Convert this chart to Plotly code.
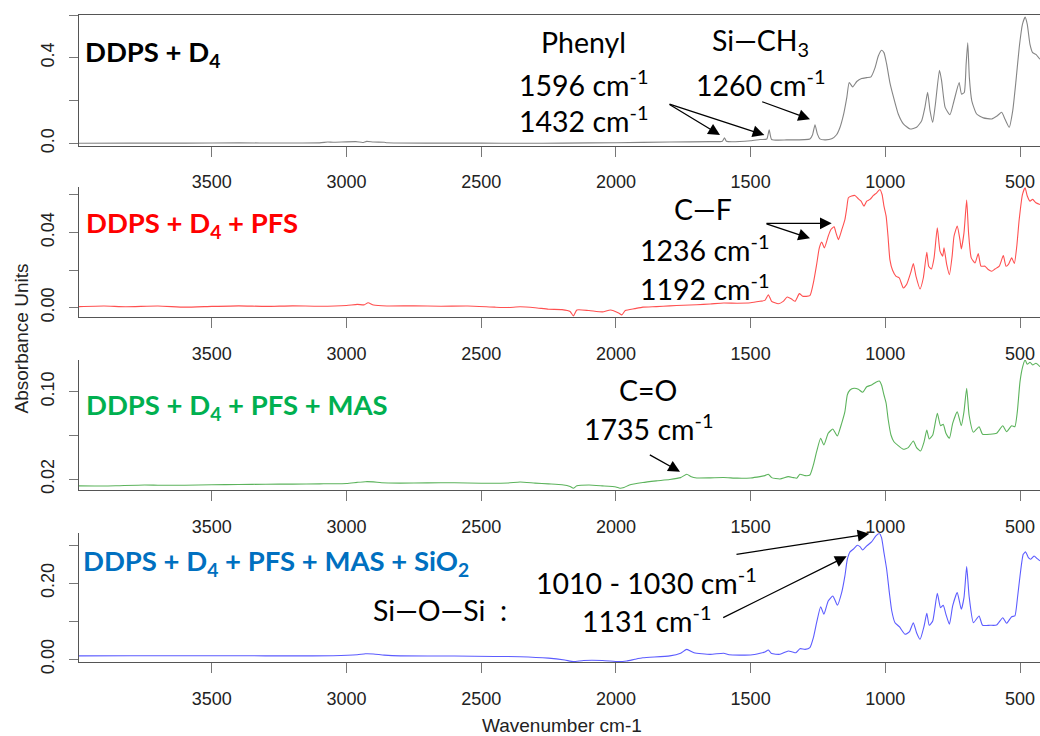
import plotly.graph_objects as go

# ---------------- data ----------------
wn_d4 = [3993, 3800, 3600, 3400, 3100, 3070, 3050, 2965, 2940, 2925, 2900, 2860, 2850, 2700, 2500, 2350,
         2200, 2000, 1800, 1650, 1605, 1597, 1590, 1500, 1465, 1440, 1431, 1422, 1366, 1280, 1270, 1261,
         1252, 1243, 1224, 1199, 1181, 1168, 1156, 1143, 1134, 1121, 1106, 1088, 1069, 1053, 1038, 1026,
         1014, 1005, 995, 983, 970, 952, 933, 908, 884, 865, 853, 843, 834, 824, 814, 799, 791, 778, 760,
         745, 726, 717, 707, 700, 694, 688, 679, 661, 636, 605, 584, 568, 556, 540, 527, 515, 503, 491,
         481, 473, 463, 453, 441, 426]
abs_d4 = [0.0, 0.001, 0.001, 0.002, 0.002, 0.006, 0.005, 0.008, 0.004, 0.009, 0.006, 0.005, 0.003, 0.001,
          0.001, 0.0, 0.001, 0.003, 0.006, 0.008, 0.010, 0.026, 0.010, 0.012, 0.018, 0.020, 0.063, 0.018,
          0.016, 0.020, 0.040, 0.087, 0.043, 0.021, 0.016, 0.021, 0.040, 0.075, 0.129, 0.214, 0.284, 0.264,
          0.289, 0.303, 0.307, 0.311, 0.354, 0.408, 0.435, 0.424, 0.370, 0.284, 0.218, 0.137, 0.091, 0.067,
          0.075, 0.106, 0.168, 0.238, 0.153, 0.098, 0.184, 0.342, 0.292, 0.168, 0.134, 0.199, 0.284, 0.230,
          0.238, 0.370, 0.470, 0.307, 0.199, 0.137, 0.119, 0.114, 0.129, 0.145, 0.114, 0.075, 0.153, 0.292,
          0.447, 0.556, 0.590, 0.556, 0.463, 0.424, 0.416, 0.393]

wn_pfs = [3993, 3900, 3820, 3700, 3600, 3500, 3400, 3300, 3200, 3100, 3000, 2960, 2935, 2920, 2900, 2850,
          2750, 2650, 2550, 2450, 2400, 2356, 2300, 2250, 2200, 2170, 2158, 2145, 2100, 2050, 2020, 1990,
          1978, 1965, 1930, 1900, 1850, 1800, 1750, 1700, 1650, 1600, 1550, 1500, 1465, 1447, 1434, 1422,
          1397, 1379, 1364, 1348, 1335, 1319, 1307, 1280, 1267, 1255, 1245, 1236, 1226, 1212, 1202, 1190,
          1183, 1174, 1162, 1150, 1143, 1137, 1125, 1113, 1100, 1090, 1079, 1069, 1057, 1044, 1032, 1020,
          1012, 1005, 997, 990, 983, 973, 960, 948, 933, 921, 906, 896, 886, 871, 859, 846, 839, 829, 819,
          807, 797, 787, 782, 772, 762, 752, 745, 733, 723, 718, 708, 698, 691, 681, 667, 655, 645, 630,
          618, 605, 593, 577, 562, 552, 543, 531, 521, 512, 503, 491, 481, 473, 463, 453, 441, 426]
abs_pfs = [0.0006, 0.0009, 0.0005, 0.0009, 0.0003, 0.0007, 0.0010, 0.0007, 0.0010, 0.0008, 0.0012, 0.0018,
           0.0015, 0.0026, 0.0014, 0.0009, 0.0010, 0.0008, 0.0009, 0.0003, 0.0001, 0.0005, 0.0000, -0.0008,
           -0.0010, -0.0020, -0.0044, -0.0012, -0.0015, -0.0022, -0.0012, -0.0028, -0.0038, -0.0015,
           -0.0005, 0.0003, 0.0006, 0.0010, 0.0013, 0.0016, 0.0020, 0.0025, 0.0024, 0.0026, 0.0034, 0.0039,
           0.0069, 0.0034, 0.0021, 0.0034, 0.0057, 0.0046, 0.0034, 0.0075, 0.0061, 0.0064, 0.0132, 0.0229,
           0.0318, 0.0349, 0.0318, 0.0380, 0.0416, 0.0430, 0.0398, 0.0362, 0.0413, 0.0469, 0.0531, 0.0585,
           0.0594, 0.0597, 0.0579, 0.0567, 0.0540, 0.0567, 0.0576, 0.0597, 0.0611, 0.0629, 0.0602, 0.0540,
           0.0487, 0.0380, 0.0256, 0.0199, 0.0167, 0.0158, 0.0105, 0.0123, 0.0185, 0.0235, 0.0167, 0.0100,
           0.0158, 0.0295, 0.0221, 0.0206, 0.0265, 0.0425, 0.0301, 0.0274, 0.0318, 0.0229, 0.0176, 0.0274,
           0.0380, 0.0434, 0.0362, 0.0313, 0.0398, 0.0572, 0.0398, 0.0265, 0.0238, 0.0288, 0.0221, 0.0221,
           0.0203, 0.0194, 0.0206, 0.0221, 0.0277, 0.0221, 0.0230, 0.0265, 0.0235, 0.0327, 0.0469, 0.0602,
           0.0638, 0.0594, 0.0567, 0.0576, 0.0558, 0.0549]

wn_mas = [3993, 3900, 3850, 3750, 3700, 3600, 3500, 3400, 3300, 3200, 3100, 3000, 2960, 2930, 2900, 2870,
          2800, 2700, 2600, 2500, 2400, 2356, 2300, 2250, 2200, 2170, 2158, 2145, 2100, 2050, 2000, 1985,
          1970, 1950, 1900, 1850, 1800, 1760, 1737, 1720, 1700, 1650, 1600, 1550, 1500, 1465, 1447, 1434,
          1422, 1391, 1360, 1341, 1329, 1317, 1298, 1280, 1267, 1255, 1240, 1228, 1212, 1195, 1187, 1178,
          1162, 1150, 1141, 1131, 1116, 1100, 1084, 1069, 1051, 1035, 1022, 1014, 1005, 997, 989, 979, 968,
          952, 933, 915, 896, 884, 869, 856, 846, 837, 824, 807, 795, 785, 775, 762, 750, 733, 718, 708,
          698, 689, 673, 652, 639, 611, 587, 564, 550, 531, 519, 510, 500, 490, 481, 473, 463, 453, 441, 426]
abs_mas = [0.0140, 0.0138, 0.0141, 0.0148, 0.0146, 0.0145, 0.0150, 0.0152, 0.0155, 0.0156, 0.0158, 0.0162,
           0.0172, 0.0178, 0.0176, 0.0168, 0.0165, 0.0167, 0.0168, 0.0164, 0.0166, 0.0175, 0.0165, 0.0158,
           0.0150, 0.0135, 0.0118, 0.0140, 0.0148, 0.0140, 0.0130, 0.0118, 0.0125, 0.0148, 0.0170, 0.0185,
           0.0198, 0.0215, 0.0246, 0.0222, 0.0212, 0.0213, 0.0216, 0.0210, 0.0212, 0.0224, 0.0233, 0.0246,
           0.0215, 0.0203, 0.0224, 0.0215, 0.0209, 0.0246, 0.0233, 0.0239, 0.0331, 0.0452, 0.0574, 0.0513,
           0.0620, 0.0659, 0.0629, 0.0595, 0.0711, 0.0817, 0.0970, 0.1015, 0.1031, 0.1022, 0.0994, 0.1045,
           0.1061, 0.1086, 0.1097, 0.1061, 0.0970, 0.0894, 0.0741, 0.0604, 0.0543, 0.0507, 0.0474, 0.0489,
           0.0550, 0.0489, 0.0458, 0.0543, 0.0650, 0.0568, 0.0604, 0.0803, 0.0689, 0.0702, 0.0620, 0.0574,
           0.0711, 0.0817, 0.0689, 0.0817, 0.1031, 0.0787, 0.0629, 0.0680, 0.0611, 0.0611, 0.0620, 0.0689,
           0.0635, 0.0689, 0.0680, 0.0817, 0.1091, 0.1228, 0.1289, 0.1250, 0.1268, 0.1244, 0.1259, 0.1228]

wn_sio2 = [3993, 3800, 3600, 3400, 3200, 3050, 2960, 2930, 2900, 2860, 2800, 2600, 2450, 2356, 2250, 2190,
           2158, 2120, 2050, 1990, 1960, 1930, 1900, 1800, 1760, 1737, 1710, 1650, 1600, 1580, 1500, 1465,
           1447, 1434, 1422, 1391, 1360, 1344, 1332, 1317, 1298, 1280, 1267, 1255, 1240, 1228, 1212, 1195,
           1187, 1178, 1162, 1150, 1141, 1131, 1119, 1104, 1094, 1084, 1069, 1051, 1035, 1022, 1014, 1005,
           995, 985, 976, 964, 948, 927, 911, 896, 884, 871, 856, 846, 837, 824, 807, 795, 785, 775, 762,
           750, 733, 718, 708, 698, 689, 673, 652, 639, 611, 587, 564, 550, 531, 519, 510, 500, 488, 479,
           469, 460, 448, 436, 426]
abs_sio2 = [0.0090, 0.0092, 0.0095, 0.0093, 0.0090, 0.0095, 0.0120, 0.0145, 0.0140, 0.0110, 0.0090, 0.0088,
            0.0075, 0.0068, 0.0030, -0.0020, -0.0060, -0.0030, -0.0030, -0.0060, -0.0045, 0.0000, 0.0040,
            0.0090, 0.0160, 0.0260, 0.0170, 0.0130, 0.0160, 0.0120, 0.0113, 0.0158, 0.0193, 0.0245, 0.0150,
            0.0132, 0.0219, 0.0193, 0.0174, 0.0279, 0.0262, 0.0305, 0.0569, 0.0963, 0.1384, 0.1184, 0.1535,
            0.1666, 0.1561, 0.1421, 0.1754, 0.2193, 0.2632, 0.2825, 0.2895, 0.3001, 0.2964, 0.2877, 0.2982,
            0.3088, 0.3246, 0.3310, 0.3200, 0.2807, 0.2369, 0.1754, 0.1271, 0.0963, 0.0858, 0.0658, 0.0719,
            0.0963, 0.0700, 0.0526, 0.0876, 0.1211, 0.0895, 0.1008, 0.1737, 0.1358, 0.1421, 0.1184, 0.0921,
            0.1403, 0.1754, 0.1316, 0.1621, 0.2437, 0.1666, 0.0963, 0.1140, 0.0895, 0.0895, 0.0900, 0.1095,
            0.0948, 0.1121, 0.1140, 0.1579, 0.2193, 0.2764, 0.2825, 0.2675, 0.2632, 0.2719, 0.2649, 0.2588]

x_ticks = [3500, 3000, 2500, 2000, 1500, 1000, 500]
panel_y_major = [[0.0, 0.4], [0.00, 0.04], [0.02, 0.10], [0.00, 0.20]]
panel_y_major_text = [["0.0", "0.4"], ["0.00", "0.04"], ["0.02", "0.10"], ["0.00", "0.20"]]
panel_y_minor = [[0.2, 0.6], [0.02, 0.06], [0.06], [0.10, 0.30]]
panel_y_range = [[-0.0102, 0.6], [-0.0051, 0.0642], [0.0102, 0.1289], [-0.0079, 0.3315]]

# ---------------- layout helpers ----------------
W, H = 1040, 736
ML = 79
PW = W - ML


def px_x(px):
    return (px - ML) / PW


def px_y(py):
    return 1 - py / H


panel_px = [(15, 145.5), (187, 317.3), (360, 490), (533.3, 662.3)]
line_colors = ["#858585", "#ff5050", "#5cb35c", "#5c5cff"]
series = [(wn_d4, abs_d4), (wn_pfs, abs_pfs), (wn_mas, abs_mas), (wn_sio2, abs_sio2)]

fig = go.Figure()
axis_font = dict(family="Liberation Sans, Arial, sans-serif", size=18, color="#222222")
for i, ((wx, ay), col) in enumerate(zip(series, line_colors)):
    n = i + 1
    fig.add_trace(go.Scatter(x=wx, y=ay, mode="lines", xaxis=f"x{n}", yaxis=f"y{n}",
                             line=dict(color=col, width=1.1, shape="spline", smoothing=0.5),
                             showlegend=False, hoverinfo="skip"))
    top, bot = panel_px[i]
    fig.layout[f"xaxis{n}"] = dict(
        domain=[0, 1], anchor=f"y{n}", range=[3993, 425.8], tickvals=x_ticks,
        ticks="outside", ticklen=10, tickcolor="#777777", showline=True, linecolor="#555555",
        linewidth=1, showgrid=False, zeroline=False, tickfont=axis_font, ticklabelstandoff=10,
        mirror=(i == 0), automargin=False)
    fig.layout[f"yaxis{n}"] = dict(
        domain=[px_y(bot), px_y(top)], anchor=f"x{n}", range=panel_y_range[i],
        tickvals=panel_y_major[i], ticktext=panel_y_major_text[i], tickangle=-90,
        ticks="outside", ticklen=9, tickcolor="#777777", showline=True, linecolor="#555555",
        linewidth=1, showgrid=False, zeroline=False, tickfont=axis_font, ticklabelstandoff=8,
        minor=dict(tickvals=panel_y_minor[i], ticks="outside", ticklen=9, tickcolor="#777777",
                   showgrid=False),
        automargin=False)

ann = []
title_font = "Lato, Calibri, sans-serif"
# panel titles
titles = [("DDPS + D<sub>4</sub>", "#000000", 83, 53.5),
          ("DDPS + D<sub>4</sub> + PFS", "#ff0000", 84, 225),
          ("DDPS + D<sub>4</sub> + PFS + MAS", "#00b050", 84, 406.7),
          ("DDPS + D<sub>4</sub> + PFS + MAS + SiO<sub>2</sub>", "#0070c0", 81, 562.5)]
for txt, col, px, py in titles:
    ann.append(dict(text=f"<b>{txt}</b>", x=px_x(px), y=px_y(py), xref="paper", yref="paper",
                    xanchor="left", yanchor="middle", showarrow=False,
                    font=dict(family=title_font, size=27.5, color=col)))

labels = [("Phenyl", 583, 42), ("1596 cm<sup>-1</sup>", 583, 83), ("1432 cm<sup>-1</sup>", 583, 119.5),
          ("Si\u2014CH<sub>3</sub>", 760, 42), ("1260 cm<sup>-1</sup>", 760.5, 83),
          ("C\u2014F", 703, 209), ("1236 cm<sup>-1</sup>", 704, 248), ("1192 cm<sup>-1</sup>", 704, 286.5),
          ("C=O", 647.5, 390), ("1735 cm<sup>-1</sup>", 648, 426.5),
          ("Si\u2014O\u2014Si\u00a0\u00a0:", 440, 610), ("1010 - 1030 cm<sup>-1</sup>", 646.7, 580.7),
          ("1131 cm<sup>-1</sup>", 646.7, 619)]
for txt, px, py in labels:
    ann.append(dict(text=txt, x=px_x(px), y=px_y(py), xref="paper", yref="paper",
                    xanchor="center", yanchor="middle", showarrow=False,
                    font=dict(family=title_font, size=28.5, color="#000000")))

# arrows: (panel, tail wavenumber, tail absorbance, head wavenumber, head absorbance)
arrows = [(1, 1806.6, 0.186, 1613.6, 0.0386), (1, 1806.6, 0.186, 1449, 0.0386),
          (1, 1462.5, 0.197, 1279.5, 0.113),
          (2, 1446.6, 0.0449, 1199, 0.0449), (2, 1446.6, 0.0449, 1279.5, 0.0369),
          (3, 1879.7, 0.0431, 1762, 0.0269),
          (4, 1558, 0.2756, 1059.4, 0.330), (4, 1607.3, 0.1076, 1143.3, 0.2712)]
for p, tx, ty, hx, hy in arrows:
    ann.append(dict(text="", x=hx, y=hy, ax=tx, ay=ty, xref=f"x{p}", yref=f"y{p}",
                    axref=f"x{p}", ayref=f"y{p}", showarrow=True, arrowhead=2, arrowsize=1.8,
                    arrowwidth=1.3, arrowcolor="#000000", standoff=0, startstandoff=0))

title_axis_font = dict(family="Liberation Sans, Arial, sans-serif", size=19, color="#222222")
ann.append(dict(text="Absorbance Units", x=px_x(20.5), y=px_y(339), xref="paper", yref="paper",
                textangle=-90, showarrow=False, xanchor="center", yanchor="middle",
                font=title_axis_font))
ann.append(dict(text="Wavenumber cm-1", x=px_x(561.5), y=px_y(725), xref="paper", yref="paper",
                showarrow=False, xanchor="center", yanchor="middle", font=title_axis_font))

fig.update_layout(width=W, height=H, margin=dict(l=ML, r=0, t=0, b=0),
                  paper_bgcolor="white", plot_bgcolor="white", annotations=ann,
                  template="none", showlegend=False)

fig.write_html("out.html", config={"displayModeBar": False},
               post_script="document.body.style.margin='0px';")
